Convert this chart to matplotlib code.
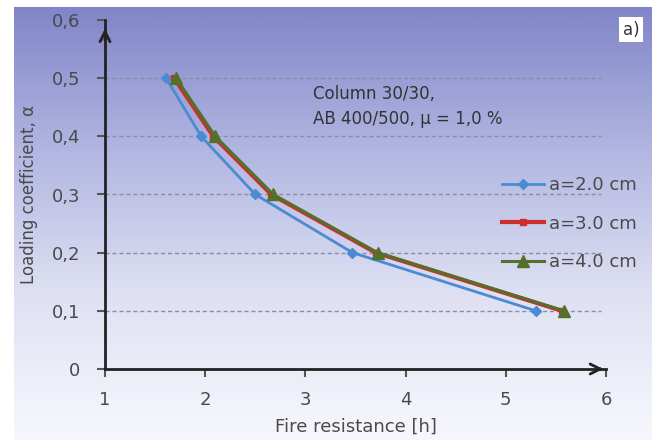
import numpy as np
import matplotlib
matplotlib.use("Agg")
import matplotlib.pyplot as plt
from matplotlib.colors import LinearSegmentedColormap

plt.rcParams['font.family'] = ['DejaVu Sans']

# data
alpha = [0.5, 0.4, 0.3, 0.2, 0.1]
t_a2 = [1.61, 1.96, 2.50, 3.47, 5.30]
t_a3 = [1.69, 2.08, 2.66, 3.70, 5.56]
t_a4 = [1.71, 2.10, 2.68, 3.72, 5.58]
x_ticks = [1, 2, 3, 4, 5, 6]
y_ticks = [0, 0.1, 0.2, 0.3, 0.4, 0.5, 0.6]
y_labels = ['0', '0,1', '0,2', '0,3', '0,4', '0,5', '0,6']

txt = '#4a4a4a'

fig = plt.figure(figsize=(6.52, 4.40), dpi=100)
fig.patch.set_facecolor('white')

# gradient background panel
bg = fig.add_axes([14/652, 0, 1 - 14/652, 1 - 7/440], zorder=0)
cmap = LinearSegmentedColormap.from_list('bg', ['#8085c8', '#b2b6e1', '#dfe1f3', '#f7f8fd'])
grad = np.linspace(0, 1, 256).reshape(-1, 1)
bg.imshow(grad, aspect='auto', cmap=cmap, extent=[0, 1, 0, 1], origin='upper')
bg.axis('off')

ax = fig.add_axes([105/652, 1 - 369/440, 501/652, 349/440], zorder=1)
ax.patch.set_alpha(0)

for s in ['top', 'right']:
    ax.spines[s].set_visible(False)
for s in ['left', 'bottom']:
    ax.spines[s].set_color('#222222')
    ax.spines[s].set_linewidth(2)

ax.set_xlim(1, 6)
ax.set_ylim(0, 0.6)
ax.set_xticks(x_ticks)
ax.set_yticks(y_ticks)
ax.set_yticklabels(y_labels)
ax.tick_params(colors='#555555', labelcolor=txt, labelsize=13, length=6, width=1.5,
               direction='out')
ax.tick_params(axis='x', pad=10)
ax.tick_params(axis='y', pad=12)

# axis arrows
ax.annotate('', xy=(6.0, 0), xytext=(5.9, 0), xycoords='data',
            arrowprops=dict(arrowstyle='->', color='#222222', lw=2, mutation_scale=18),
            annotation_clip=False)
ax.annotate('', xy=(1, 0.59), xytext=(1, 0.56),
            arrowprops=dict(arrowstyle='->', color='#222222', lw=2, mutation_scale=18),
            annotation_clip=False)

for y in y_ticks[1:]:
    ax.axhline(y, xmin=0, xmax=0.99, color='#8c8ca8', lw=1, ls=(0, (3, 2)), zorder=1)

ax.plot(t_a2, alpha, color='#4a8bd2', lw=2, marker='D', ms=5, label='a=2.0 cm', zorder=3)
ax.plot(t_a3, alpha, color='#cf2e2e', lw=3, marker='s', ms=5, label='a=3.0 cm', zorder=4)
ax.plot(t_a4, alpha, color='#55702a', lw=2.2, marker='^', ms=8, label='a=4.0 cm', zorder=5)

leg = ax.legend(loc='upper left', bbox_to_anchor=(0.76, 0.60), frameon=False,
                fontsize=13, handlelength=2.3, handletextpad=0.3, labelspacing=1.15,
                labelcolor=txt)

ax.text(0.415, 0.815, 'Column 30/30,\nAB 400/500, \u03bc = 1,0 %', transform=ax.transAxes,
        fontsize=12, color='#333333', va='top', ha='left', linespacing=1.55)

ax.set_xlabel('Fire resistance [h]', fontsize=13, color=txt, labelpad=6)
ax.set_ylabel('Loading coefficient, \u03b1', fontsize=12, color=txt, labelpad=10)

fig.text(631/652, 1 - 30/440, 'a)', fontsize=12, color='#333333', ha='center', va='center',
         bbox=dict(facecolor='white', edgecolor='none', pad=2.5))

fig.savefig('out.png', dpi=100)
